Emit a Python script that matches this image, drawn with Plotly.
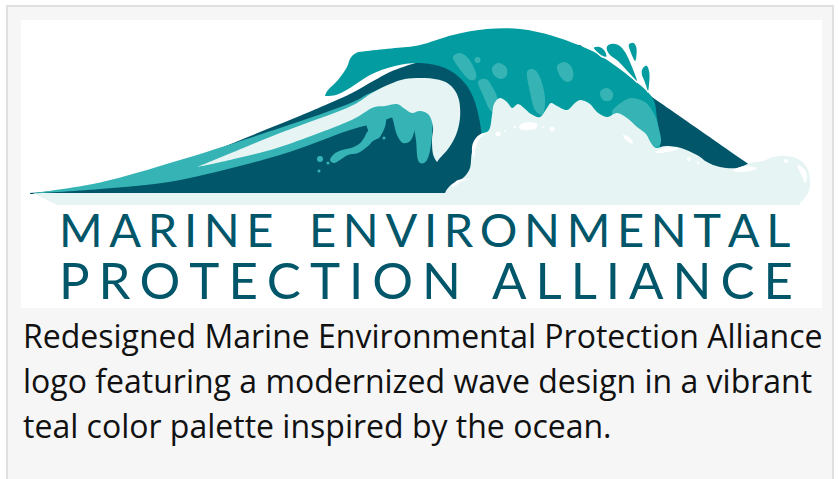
import plotly.graph_objects as go

# ---------------- text content ----------------
LOGO_LINE1 = "MARINE ENVIRONMENTAL"
LOGO_LINE2 = "PROTECTION ALLIANCE"
CAPTION_LINES = [
    "Redesigned Marine Environmental Protection Alliance",
    "logo featuring a modernized wave design in a vibrant",
    "teal color palette inspired by the ocean.",
]

# ---------------- palette ----------------
DARK = "#02566a"
MID = "#039ca0"
LIGHT = "#36b4b5"
FOAM = "#e7f4f4"
WHITE = "#ffffff"

# ---------------- wave outlines (pixel space, y down) ----------------
DARK_BODY = [(30,193,1),(100,184.5),(180,163),(280,124),(330,103),(352,93),(375,80),
             (400,68),(440,58),(520,48),(580,45,1),(652,97,1),(750,165,1),(752,194,1),(30,194,1)]
FOAM_BAND = [(33,193,1),(800,193,1),(800,205,1),(57,205,1)]
LIGHT_BAND = [(33,193,1),(100,182.5),(180,160),(280,128),(347,104.5),(368,94),(385,87),
              (400,85),(402,110),(385,120),(347,131),(280,155),(180,180),(100,189),(35,193.4,1)]
LIGHT_DRIPS = [
    [(364,108),(384,106),(386,122),(381,135),(374,138),(368,130),(365,118)],
    [(390,106),(418,108),(416,125),(411,140),(403,143),(397,135),(393,120)],
    [(413,110),(431,112),(432,135),(429,155),(424,163),(418,160),(416,140)],
]
CURL = [(197,167,1),(280,133),(347,108),(372,93),(390,84),(405,79),(425,78),(443,81),(453,88),
        (459,100),(460,118),(456,135),(448,149),(440,158),(437,162,1),(433,154),(432,140),
        (433,127),(429,115),(420,111),(412,113),(405,109),(397,104),(385,106),(372,108),
        (347,122),(280,147),(230,160)]
SQUIGGLE = [(330,160),(334,154),(342,150),(351,148),(359,144),(364,138),(368,131),(375,127),
            (381,130),(380,137),(373,141),(367,147),(358,153),(348,155),(340,160),(334,163)]
SQUIGGLE_DOTS = [(320,159,3),(328,163,1.5),(319,171,1.5),(384,138,1.5)]
CREST = [(325,96,1),(336,95),(350,88),(370,75),(395,66),(420,63),(445,68),(462,80),(473,97),
         (480,123),(484,160),(486,185,1),(662,185,1),(660,143),(657,118),(652,97),(630,77),
         (610,62),(590,50),(553,36),(520,29),(487,29),(453,35),(420,45),(395,48),(367,51),
         (356,53),(350,59),(347,67),(338,80),(328,90)]
CREST_SPOTS = [
    [(453,58),(460,53),(468,58),(475,70),(476,78),(470,80),(462,72)],
    [(492,68),(498,63),(506,67),(507,75),(501,79),(494,75)],
    [(478,82),(486,79),(493,88),(498,100),(497,112),(490,110),(483,95)],
    [(527,72),(535,70),(541,80),(545,98),(543,114),(535,110),(530,92)],
    [(557,66),(565,62),(572,68),(573,78),(567,82),(560,76)],
    [(600,92),(607,88),(613,93),(611,100),(603,100)],
    [(612,112),(622,102),(632,98),(645,102),(653,112),(658,125),(660,145),(640,148),(625,140),(618,125)],
]
CREST_DOTS = [(477.5,60,3)]
DROPLETS = [
    [(593,48),(599,46),(605,50),(607,57),(601,56)],
    [(606,47),(612,43),(620,45),(626,52),(632,65),(638,82),(630,75),(618,62),(609,55)],
    [(628,45),(633,42),(637,47),(637,57),(635,62),(631,55)],
    [(642,68),(647,65),(650,72),(650,82),(648,92),(644,82),(641,74)],
]
FOAM_CLOUD = [(445,205,1),(445,193),(452,184),(463,178),(470,168),(472,152),(478,138),(489,130),
              (492,115),(494,104),(500,98),(507,102),(512,108),(518,104),(524,108),(531,114),
              (540,117),(547,108),(551,103),(557,106),(567,110),(575,103),(581,100),(590,104),
              (597,112),(607,117),(617,113),(627,118),(637,127),(646,134),(651,143),(656,148),
              (666,146),(681,148),(697,155),(707,162),(720,167),(737,168),(750,163),(763,161),
              (773,157),(787,156),(800,160),(808,170),(810,187),(804,199),(797,205,1)]
HIGHLIGHTS = [
    [(520,125),(528,122),(537,124),(535,129),(526,130),(520,129)],
    [(488,132),(481,137),(476,146),(474,158),(472,152),(473,143),(479,135)],
    [(470,179),(462,181),(455,186),(452,186),(458,180)],
    [(655,152),(665,148),(678,148),(672,151),(660,153)],
    [(733,170),(745,166),(757,168),(750,171),(738,172)],
    [(798,165),(805,170),(807,178),(805,183),(802,176),(799,170)],
    [(623,135),(629,137),(633,143),(630,143),(625,139)],
]
HIGHLIGHT_DOTS = [(498,134,2.5),(552,129,2.5),(689,159,2),(698,163,1.2),(786,161,2),
                  (515,127,1.2),(505,131,1),(543,127,1)]


def spline(pts, closed=True, t=1/6):
    n = len(pts)
    P = [(p[0], p[1]) for p in pts]
    corner = [len(p) > 2 for p in pts]
    d = "M%.1f,%.1f" % P[0]
    segs = n if closed else n - 1
    for i in range(segs):
        p0 = P[(i - 1) % n]
        p1 = P[i]
        p2 = P[(i + 1) % n]
        p3 = P[(i + 2) % n]
        c1 = p1 if corner[i] else (p1[0] + (p2[0] - p0[0]) * t, p1[1] + (p2[1] - p0[1]) * t)
        c2 = p2 if corner[(i + 1) % n] else (p2[0] - (p3[0] - p1[0]) * t, p2[1] - (p3[1] - p1[1]) * t)
        d += " C%.1f,%.1f %.1f,%.1f %.1f,%.1f" % (c1[0], c1[1], c2[0], c2[1], p2[0], p2[1])
    if closed:
        d += " Z"
    return d


shapes = []


def add_path(pts, color, line_color=None, line_width=0):
    shapes.append(dict(type="path", xref="x", yref="y", path=spline(pts), fillcolor=color,
                       line=dict(color=line_color or color, width=line_width), layer="above"))


def add_dot(cx, cy, r, color):
    shapes.append(dict(type="circle", xref="x", yref="y", x0=cx - r, x1=cx + r, y0=cy - r, y1=cy + r,
                       fillcolor=color, line=dict(width=0), layer="above"))


# frame & white logo panel
shapes.append(dict(type="rect", xref="x", yref="y", x0=7, x1=833, y0=6, y1=495,
                   fillcolor="#f6f6f6", line=dict(color="#e0e0e0", width=2), layer="above"))
shapes.append(dict(type="rect", xref="x", yref="y", x0=21, x1=822, y0=20, y1=308,
                   fillcolor=WHITE, line=dict(width=0), layer="above"))

add_path(DARK_BODY, DARK)
add_path(FOAM_BAND, FOAM)
add_path(LIGHT_BAND, LIGHT)
for d in LIGHT_DRIPS:
    add_path(d, LIGHT)
add_path(CURL, FOAM)
add_path(SQUIGGLE, LIGHT)
for cx, cy, r in SQUIGGLE_DOTS:
    add_dot(cx, cy, r, LIGHT)
add_path(CREST, MID)
for s in CREST_SPOTS:
    add_path(s, LIGHT)
for cx, cy, r in CREST_DOTS:
    add_dot(cx, cy, r, LIGHT)
for d in DROPLETS:
    add_path(d, MID, WHITE, 1.5)
add_path(FOAM_CLOUD, FOAM)
for h in HIGHLIGHTS:
    add_path(h, WHITE)
for cx, cy, r in HIGHLIGHT_DOTS:
    add_dot(cx, cy, r, WHITE)

NB = "&#160;"


def gap(size):
    return '<span style="font-size:%dpx">%s</span>' % (size, NB)


def spaced(s, letter_gap, word_gap):
    return word_gap.join(letter_gap.join(list(w)) for w in s.split(" "))


annotations = [
    dict(x=57, y=229, xref="x", yref="y", xanchor="left", yanchor="middle", showarrow=False,
         text=spaced(LOGO_LINE1, gap(26), gap(26) + NB + gap(40) + gap(26)),
         font=dict(family="Lato", size=47, color=DARK)),
    dict(x=57, y=279.5, xref="x", yref="y", xanchor="left", yanchor="middle", showarrow=False,
         text=spaced(LOGO_LINE2, gap(35), gap(35) + NB + gap(35)),
         font=dict(family="Lato", size=51, color=DARK)),
]
for i, line in enumerate(CAPTION_LINES):
    annotations.append(dict(x=21, y=335 + 45 * i, xref="x", yref="y", xanchor="left", yanchor="middle",
                            showarrow=False, text=line,
                            font=dict(family="Open Sans", size=32, color="#111111")))

fig = go.Figure()
fig.update_layout(
    width=840, height=479, margin=dict(l=0, r=0, t=0, b=0),
    paper_bgcolor=WHITE, plot_bgcolor=WHITE,
    xaxis=dict(range=[0, 840], visible=False, fixedrange=True),
    yaxis=dict(range=[479, 0], visible=False, fixedrange=True),
    shapes=shapes, annotations=annotations, showlegend=False,
)
fig.write_html("out.html", config=dict(displayModeBar=False),
               post_script="document.body.style.margin='0';document.body.style.overflow='hidden';")
